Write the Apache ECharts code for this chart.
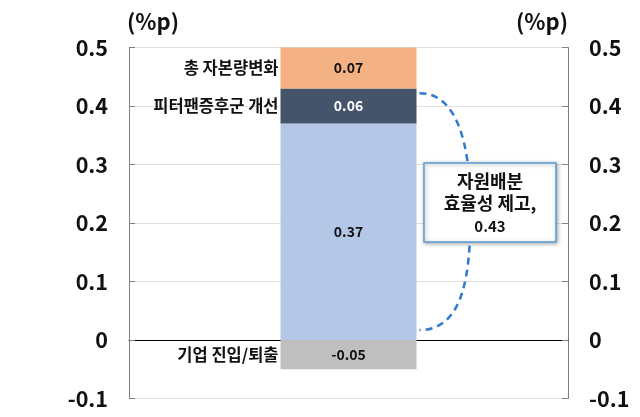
<!DOCTYPE html>
<html><head><meta charset="utf-8">
<script src="https://cdn.jsdelivr.net/npm/echarts@6/dist/echarts.min.js"></script>
<style>html,body{margin:0;padding:0;background:#fff}#c{width:640px;height:417px}</style>
</head><body><div id="c"></div>
<script>
const categories = [''];
const yTicks = { min: -0.1, max: 0.5, interval: 0.1 };
const seriesNames = ['', '피터팬증후군 개선', '총 자본량변화', '기업 진입/퇴출'];
const realloc = [0.37];
const peterPan = [0.06];
const capital = [0.07];
const entryExit = [-0.05];
const seriesColors = ['#b4c7e7', '#44546a', '#f4b183', '#bfbfbf'];
const valueLabelColors = ['#111', '#fff', '#111', '#111'];
const calloutTitle = ['자원배분', '효율성 제고,'];

const FONT = '"Noto Sans CJK KR", "Noto Sans", sans-serif';
const allData = [realloc, peterPan, capital, entryExit];

const series = [];
allData.forEach((d, i) => {
  series.push({
    type: 'bar', name: 'v' + i, stack: 'vals', data: d, barWidth: 136, barGap: '-100%',
    itemStyle: { color: seriesColors[i] },
    label: { show: true, position: 'inside', color: valueLabelColors[i], fontFamily: FONT,
      fontWeight: 'bold', fontSize: 14, formatter: p => p.value.toFixed(2) },
    silent: true, z: 2
  });
});
allData.forEach((d, i) => {
  series.push({
    type: 'bar', name: 'n' + i, stack: 'names', data: d, barWidth: 136, barGap: '-100%',
    itemStyle: { color: 'rgba(0,0,0,0)' },
    label: { show: seriesNames[i] !== '', position: 'left', distance: 2, color: '#111',
      fontFamily: FONT, fontWeight: 'bold', fontSize: 16.5, formatter: () => seriesNames[i] },
    silent: true, z: 3
  });
});

const axisCommon = {
  type: 'value', min: yTicks.min, max: yTicks.max, interval: yTicks.interval,
  name: '(%p)', nameLocation: 'end', nameGap: 26,
  axisLine: { show: true, lineStyle: { color: '#7f7f7f', width: 1 } },
  axisTick: { show: true, inside: true, length: 6, lineStyle: { color: '#7f7f7f' } },
  axisLabel: { color: '#111', fontFamily: FONT, fontWeight: 'bold', fontSize: 21.5, margin: 21,
    formatter: v => (Math.round(v * 10) / 10).toString() },
};

const chart = echarts.init(document.getElementById('c'), null, { renderer: 'canvas' });
chart.setOption({
  animation: false,
  grid: { left: 129, right: 72, top: 47.5, bottom: 18.5, containLabel: false },
  xAxis: {
    type: 'category', data: categories,
    axisLine: { show: true, onZero: true, lineStyle: { color: '#000', width: 1 } },
    axisTick: { show: false }, axisLabel: { show: false }, splitLine: { show: false }
  },
  yAxis: [
    Object.assign({}, axisCommon, {
      position: 'left',
      nameTextStyle: { color: '#111', fontFamily: FONT, fontWeight: 'bold', fontSize: 22, align: 'left', verticalAlign: 'middle', padding: [0, 0, 0, -2] },
      splitLine: { show: true, lineStyle: { color: '#e0e0e0', width: 1 } }
    }),
    Object.assign({}, axisCommon, {
      position: 'right',
      nameTextStyle: { color: '#111', fontFamily: FONT, fontWeight: 'bold', fontSize: 22, align: 'right', verticalAlign: 'middle', padding: [0, 0, 0, 0] },
      splitLine: { show: false }
    })
  ],
  series: series
});

// annotation bracket and callout, anchored via the axis scale
const topVal = realloc[0] + peterPan[0];
const pTop = chart.convertToPixel({ gridIndex: 0 }, [0, topVal - 0.008]);
const pBot = chart.convertToPixel({ gridIndex: 0 }, [0, 0.017]);
const x0 = pTop[0] + 68 + 3;
const yT = pTop[1], yB = pBot[1];
const xm = x0 + 51, ym = (yT + yB) / 2 - 2;
const lineStyle = { fill: null, stroke: '#2e7bcf', lineWidth: 2.5, lineDash: [7, 5] };

chart.setOption({
  graphic: [
    { type: 'bezierCurve', shape: { x1: x0, y1: yT, cpx1: x0 + 36, cpy1: yT, cpx2: xm, cpy2: yT + 47, x2: xm, y2: ym },
      style: lineStyle, silent: true, z: 10 },
    { type: 'bezierCurve', shape: { x1: xm, y1: ym, cpx1: xm, cpy1: ym + 60, cpx2: x0 + 46, cpy2: yB, x2: x0, y2: yB },
      style: lineStyle, silent: true, z: 10 },
    { type: 'rect', shape: { x: 424, y: 163, width: 132, height: 79 },
      style: { fill: '#fff', stroke: '#5b9bd5', lineWidth: 1.5, shadowBlur: 4, shadowColor: 'rgba(0,0,0,0.35)', shadowOffsetX: 1, shadowOffsetY: 1 }, z: 11 },
    { type: 'text', x: 490, y: 181, style: { text: calloutTitle[0], font: 'bold 18px ' + FONT, fill: '#111', textAlign: 'center', textVerticalAlign: 'middle' }, z: 12 },
    { type: 'text', x: 490, y: 203, style: { text: calloutTitle[1], font: 'bold 18px ' + FONT, fill: '#111', textAlign: 'center', textVerticalAlign: 'middle' }, z: 12 },
    { type: 'text', x: 490, y: 226, style: { text: topVal.toFixed(2), font: 'bold 15px ' + FONT, fill: '#111', textAlign: 'center', textVerticalAlign: 'middle' }, z: 12 }
  ]
});
</script></body></html>
